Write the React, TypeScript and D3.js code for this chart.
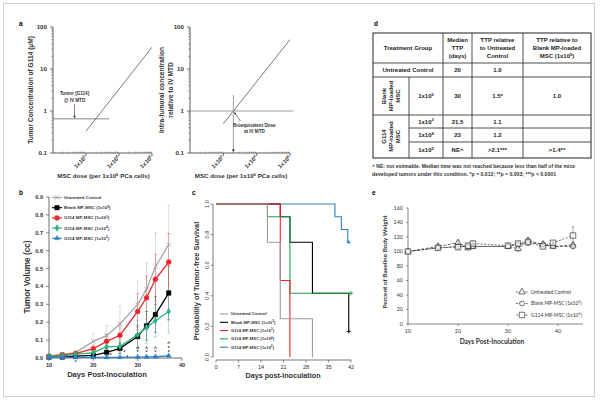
import React from "react";
import * as d3 from "d3";

const FONT = "'Liberation Sans', Arial, sans-serif";

// ---------- Panel a ----------
const aLineDoses = [1e3, 1e5];
const aLineConc = [0.33, 33];
const aMtdConc = 0.65;
const aMtdDoseEnd = 5e3;
const aXTicks = [1e3, 1e4, 1e5];
const aXTickLabels = ["1x10³", "1x10⁴", "1x10⁵"];
const aYTicks = [0.1, 1, 10, 100];
const aYTickLabels = ["0.1", "1", "10", "100"];
const a2LineRel = [0.5, 50];
const a2BioeqDose = 2000;
const a2VLineTop = 2.4;

// ---------- Panel b ----------
const bDays = [10, 13, 16, 20, 23, 26, 30, 32, 34, 37];
const bUntreated = [0.01, 0.02, 0.03, 0.093, 0.125, 0.19, 0.3, 0.385, 0.51, 0.633];
const bUntreatedErr = [0.005, 0.01, 0.012, 0.045, 0.055, 0.1, 0.13, 0.145, 0.19, 0.22];
const bBlank = [0.005, 0.005, 0.01, 0.015, 0.032, 0.054, 0.12, 0.18, 0.243, 0.363];
const bBlankErr = [0.003, 0.003, 0.005, 0.01, 0.02, 0.03, 0.06, 0.08, 0.1, 0.15];
const bG3 = [0.01, 0.018, 0.025, 0.052, 0.093, 0.127, 0.26, 0.337, 0.44, 0.536];
const bG3Err = [0.005, 0.01, 0.01, 0.02, 0.04, 0.06, 0.1, 0.12, 0.14, 0.16];
const bG4 = [0.01, 0.012, 0.02, 0.03, 0.063, 0.065, 0.13, 0.17, 0.208, 0.26];
const bG4Err = [0.003, 0.005, 0.01, 0.02, 0.03, 0.04, 0.08, 0.09, 0.09, 0.12];
const bG5 = [0.003, 0.003, 0.003, 0.003, 0.003, 0.004, 0.005, 0.006, 0.007, 0.012];
const bG5Err = [0.002, 0.002, 0.002, 0.002, 0.002, 0.003, 0.003, 0.004, 0.004, 0.005];
const bSeriesNames = [
  "Untreated Control",
  "Blank MP-MSC (1x10⁵)",
  "G114 MP-MSC (1x10³)",
  "G114 MP-MSC (1x10⁴)",
  "G114 MP-MSC (1x10⁵)",
];
const bCaretDays = [30, 32, 34, 37];
const bCaretValues = [0.06, 0.06, 0.06, 0.087];
const bStarDays = [16, 23.9, 27, 27.6, 30, 32, 34, 37, 37];
const bStarValues = [-0.02, 0.022, 0.036, 0.006, 0.034, 0.034, 0.034, 0.06, 0.034];
const bYTicks = [0, 0.1, 0.2, 0.3, 0.4, 0.5, 0.6, 0.7, 0.8, 0.9];
const bXTicks = [10, 20, 30, 40];

// ---------- Panel c ----------
const cNames = bSeriesNames;
const cTimesUntreated = [0, 16, 20, 30];
const cSurvUntreated = [1, 0.75, 0.25, 0];
const cTimesBlank = [0, 20, 23, 30, 41.3];
const cSurvBlank = [1, 0.917, 0.75, 0.417, 0.167];
const cTimesG3 = [0, 20, 23];
const cSurvG3 = [1, 0.5, 0];
const cTimesG4 = [0, 16, 23, 42];
const cSurvG4 = [1, 0.917, 0.417, 0.417];
const cTimesG5 = [0, 37, 39, 41, 41.3];
const cSurvG5 = [1, 0.917, 0.833, 0.75, 0.75];
const cCensorBlank = [41.3, 0.167];
const cCensorG4 = [42, 0.417];
const cCensorG5 = [41.3, 0.75];
const cXTicks = [0, 7, 14, 21, 28, 35, 42];
const cYTicks = [0, 0.2, 0.4, 0.6, 0.8, 1.0];

// ---------- Panel d (table) ----------
const dHeader1 = ["Treatment Group"];
const dHeader2 = ["Median", "TTP", "(days)"];
const dHeader3 = ["TTP relative", "to Untreated", "Control"];
const dHeader4 = ["TTP relative to", "Blank MP-loaded", "MSC (1x10⁵)"];
const dUntreatedRow = ["Untreated Control", "20", "1.0", ""];
const dBlankGroup = ["Blank", "MP-loaded", "MSC"];
const dBlankRow = ["1x10⁵", "30", "1.5*", "1.0"];
const dG114Group = ["G114", "MP-loaded", "MSC"];
const dG114Doses = ["1x10³", "1x10⁴", "1x10⁵"];
const dG114Median = ["21.5", "23", "NE^"];
const dG114RelUntreated = ["1.1", "1.2", ">2.1***"];
const dG114RelBlank = ["", "", ">1.4**"];
const dFootnote = [
  "^ NE: not estimable. Median time was not reached because less than half of the mice",
  "developed tumors under this condition. *p = 0.012; **p = 0.003; ***p < 0.0001",
];

// ---------- Panel e ----------
const eDays = [10, 16, 20, 22, 23, 30, 32, 34, 37, 39, 43];
const eUntreated = [100, 107, 112, 105, 107, 107, 104, 115, 110, 107, 109];
const eUntreatedErr = [0, 3, 3, 3, 3, 2, 4, 3, 2, 2, 3];
const eBlank = [100, 105, 107, 107, 107, 107, 110, 112, 110, 107, 107];
const eBlankErr = [0, 2, 2, 2, 2, 2, 2, 3, 2, 2, 3];
const eG114 = [100, 105, 106, 108, 111, 108, 111, 113, 107, 112, 122];
const eG114Err = [0, 2, 2, 3, 3, 2, 2, 3, 2, 2, 12];
const eNames = ["Untreated Control", "Blank MP-MSC  (1x10⁵)", "G114 MP-MSC  (1x10⁵)"];
const eYTicks = [0, 20, 40, 60, 80, 100, 120, 140, 160];
const eXTicks = [10, 20, 30, 40];

const SUP: Record<string, string> = { "³": "3", "⁴": "4", "⁵": "5", "⁶": "6" };

// Render a string, turning superscript characters into raised, smaller tspans.
function rich(s: string, fs: number) {
  const parts: { t: string; sup: boolean }[] = [];
  for (const ch of s) {
    const isSup = ch in SUP;
    const t = isSup ? SUP[ch] : ch;
    const last = parts[parts.length - 1];
    if (last && last.sup === isSup) last.t += t;
    else parts.push({ t, sup: isSup });
  }
  const rise = fs * 0.38;
  let raised = false;
  return parts.map((p, i) => {
    let dy = 0;
    if (p.sup && !raised) { dy = -rise; raised = true; }
    else if (!p.sup && raised) { dy = rise; raised = false; }
    return (
      <tspan key={i} dy={dy || undefined} fontSize={p.sup ? fs * 0.68 : undefined}>{p.t}</tspan>
    );
  });
}

function minorLogTicks(lo: number, hi: number) {
  const out: number[] = [];
  for (let p = Math.floor(Math.log10(lo)); p < Math.ceil(Math.log10(hi)); p++) {
    for (let k = 2; k <= 9; k++) {
      const v = k * Math.pow(10, p);
      if (v > lo && v < hi) out.push(v);
    }
  }
  return out;
}

function LogPanel(props: {
  x0: number; x1: number; lineY: number[]; hLineValue: number; hLineEnd: number;
  yTitle: string[]; yTitleX: number; hColor: string;
}) {
  const { x0, x1, lineY, hLineValue, hLineEnd, yTitle, yTitleX, hColor } = props;
  const x = d3.scaleLog().domain([100, 1e5]).range([x0, x1]);
  const y = d3.scaleLog().domain([0.1, 100]).range([153, 27]);
  const line = d3.line<number>().x((_, i) => x(aLineDoses[i])).y((d) => y(d));
  return (
    <g>
      <line x1={x0} x2={x0} y1={27} y2={153} stroke="#333" strokeWidth={0.8} />
      <line x1={x0} x2={x1} y1={153} y2={153} stroke="#333" strokeWidth={0.8} />
      {aYTicks.map((t, i) => (
        <g key={"yt" + i}>
          <line x1={x0 - 3} x2={x0} y1={y(t)} y2={y(t)} stroke="#333" strokeWidth={0.7} />
          <text x={x0 - 6} y={y(t)} dy="0.35em" textAnchor="end" fontSize={6.2} fontWeight="bold" fill="#333">
            {aYTickLabels[i]}
          </text>
        </g>
      ))}
      {minorLogTicks(0.1, 100).map((t, i) => (
        <line key={"ym" + i} x1={x0 - 1.8} x2={x0} y1={y(t)} y2={y(t)} stroke="#555" strokeWidth={0.5} />
      ))}
      {minorLogTicks(100, 1e5).map((t, i) => (
        <line key={"xm" + i} x1={x(t)} x2={x(t)} y1={153} y2={151.5} stroke="#555" strokeWidth={0.5} />
      ))}
      {aXTicks.map((t, i) => (
        <g key={"xt" + i}>
          <line x1={x(t)} x2={x(t)} y1={153} y2={156} stroke="#333" strokeWidth={0.7} />
          <text transform={`translate(${x(t) + 1},${158}) rotate(-45)`} textAnchor="end" fontSize={5.8} fontWeight="bold" fill="#333">
            {rich(aXTickLabels[i], 5.8)}
          </text>
        </g>
      ))}
      <line x1={x(100)} x2={x(hLineEnd)} y1={y(hLineValue)} y2={y(hLineValue)} stroke={hColor} strokeWidth={0.8} />
      <path d={line(lineY) || ""} fill="none" stroke="#555" strokeWidth={0.8} />
      {yTitle.map((s, i) => (
        <text key={"ytl" + i} transform={`translate(${yTitleX + i * 8.5},90) rotate(-90)`} textAnchor="middle" fontSize={6.6} fontWeight="bold" fill="#333">
          {s}
        </text>
      ))}
      <text x={(x0 + x1) / 2 + 1} y={178} textAnchor="middle" fontSize={6.2} fontWeight="bold" fill="#333">
        {rich("MSC dose (per 1x10⁶ PCa cells)", 6.2)}
      </text>
    </g>
  );
}

function PanelA() {
  const xA1 = d3.scaleLog().domain([100, 1e5]).range([53, 152]);
  const xA2 = d3.scaleLog().domain([100, 1e5]).range([190, 290]);
  const y = d3.scaleLog().domain([0.1, 100]).range([153, 27]);
  const lx = xA1(450);
  const bx = xA2(a2BioeqDose);
  return (
    <g>
      <text x={19} y={26} fontSize={6.5} fontWeight="bold">a</text>
      <LogPanel x0={53} x1={152} lineY={aLineConc} hLineValue={aMtdConc} hLineEnd={aMtdDoseEnd}
        yTitle={["Tumor Concentration of G114 (µM)"]} yTitleX={33} hColor="#666" />
      <text x={lx} y={95} textAnchor="middle" fontSize={4.6} fontWeight="bold" fill="#333">Tumor [G114]</text>
      <text x={lx} y={101.5} textAnchor="middle" fontSize={4.6} fontWeight="bold" fill="#333">@ IV MTD</text>
      <line x1={lx} x2={lx} y1={104} y2={y(aMtdConc) - 1} stroke="#333" strokeWidth={0.6} />
      <path d={`M${lx - 1.3},${y(aMtdConc) - 3} L${lx},${y(aMtdConc) - 0.5} L${lx + 1.3},${y(aMtdConc) - 3}`} fill="#333" />

      <LogPanel x0={190} x1={290} lineY={a2LineRel} hLineValue={1} hLineEnd={1.25e5}
        yTitle={["Intra-tumoral concentration", "relative to IV MTD"]} yTitleX={164} hColor="#888" />
      <line x1={bx} x2={bx} y1={153} y2={y(a2VLineTop)} stroke="#888" strokeWidth={0.8} />
      <path d={`M${bx - 1.3},${151} L${bx},${148} L${bx + 1.3},${151}`} fill="#333" />
      <line x1={bx + 1.5} x2={bx + 7} y1={y(1) + 2} y2={y(1) + 10} stroke="#333" strokeWidth={0.6} />
      <path d={`M${bx + 0.6},${y(1) + 1} l2.4,1.2 l-1.6,1.2 z`} fill="#333" />
      <text x={bx + 21} y={y(1) + 16} textAnchor="middle" fontSize={4.6} fontWeight="bold" fill="#333">Bioequivalent Dose</text>
      <text x={bx + 21} y={y(1) + 22} textAnchor="middle" fontSize={4.6} fontWeight="bold" fill="#333">at IV MTD</text>
    </g>
  );
}

function PanelB() {
  const x = d3.scaleLinear().domain([10, 40]).range([49, 182]);
  const y = d3.scaleLinear().domain([0, 0.9]).range([358, 197]);
  const series = [
    { v: bUntreated, e: bUntreatedErr, c: "#a6a6a6", sym: d3.symbolTimes, size: 14, fill: "none" },
    { v: bBlank, e: bBlankErr, c: "#000000", sym: d3.symbolSquare, size: 22, fill: "#000" },
    { v: bG3, e: bG3Err, c: "#e8262b", sym: d3.symbolCircle, size: 20, fill: "#e8262b" },
    { v: bG4, e: bG4Err, c: "#2db37d", sym: d3.symbolDiamond, size: 14, fill: "#2db37d" },
    { v: bG5, e: bG5Err, c: "#2f7fc1", sym: d3.symbolTriangle, size: 12, fill: "#2f7fc1" },
  ];
  const line = d3.line<number>().x((_, i) => x(bDays[i])).y((d) => y(d));
  return (
    <g>
      <text x={19} y={195} fontSize={6.5} fontWeight="bold">b</text>
      <line x1={49} x2={49} y1={197} y2={358} stroke="#444" strokeWidth={0.8} />
      <line x1={49} x2={182} y1={358} y2={358} stroke="#444" strokeWidth={0.8} />
      {bYTicks.map((t, i) => (
        <g key={"by" + i}>
          <line x1={46} x2={49} y1={y(t)} y2={y(t)} stroke="#444" strokeWidth={0.6} />
          <text x={43} y={y(t)} dy="0.35em" textAnchor="end" fontSize={5.6} fontWeight="bold" fill="#333">{t.toFixed(1)}</text>
        </g>
      ))}
      {bXTicks.map((t, i) => (
        <g key={"bx" + i}>
          <line x1={x(t)} x2={x(t)} y1={358} y2={361} stroke="#444" strokeWidth={0.6} />
          <text x={x(t)} y={367} textAnchor="middle" fontSize={5.6} fontWeight="bold" fill="#333">{t}</text>
        </g>
      ))}
      {series.map((s, si) => (
        <g key={"err" + si}>
          {s.v.map((v, i) => {
            const lo = Math.max(0, v - s.e[i]);
            const hi = v + s.e[i];
            return (
              <g key={i}>
                <line x1={x(bDays[i])} x2={x(bDays[i])} y1={y(lo)} y2={y(hi)} stroke={s.c} strokeWidth={0.5} opacity={0.8} />
                <line x1={x(bDays[i]) - 1.5} x2={x(bDays[i]) + 1.5} y1={y(hi)} y2={y(hi)} stroke={s.c} strokeWidth={0.5} opacity={0.8} />
                <line x1={x(bDays[i]) - 1.5} x2={x(bDays[i]) + 1.5} y1={y(lo)} y2={y(lo)} stroke={s.c} strokeWidth={0.5} opacity={0.8} />
              </g>
            );
          })}
        </g>
      ))}
      {series.map((s, si) => (
        <g key={"ser" + si}>
          <path d={line(s.v) || ""} fill="none" stroke={s.c} strokeWidth={1.3} />
          {s.v.map((v, i) => (
            <path key={i} transform={`translate(${x(bDays[i])},${y(v)})`} d={d3.symbol().type(s.sym).size(s.size)() || ""}
              fill={s.fill} stroke={s.c} strokeWidth={s.fill === "none" ? 0.9 : 0.3} />
          ))}
        </g>
      ))}
      {bCaretDays.map((d, i) => (
        <text key={"car" + i} x={x(d)} y={y(bCaretValues[i])} dy="0.5em" textAnchor="middle" fontSize={5} fontWeight="bold" fill="#222">^</text>
      ))}
      {bStarDays.map((d, i) => (
        <text key={"st" + i} x={x(d)} y={y(bStarValues[i])} dy="0.55em" textAnchor="middle" fontSize={4.6} fontWeight="bold" fill="#222">*</text>
      ))}
      {series.map((s, si) => {
        const ly = 197.5 + si * 10.2;
        return (
          <g key={"leg" + si}>
            <line x1={52} x2={62} y1={ly} y2={ly} stroke={s.c} strokeWidth={1.2} />
            <path transform={`translate(57,${ly})`} d={d3.symbol().type(s.sym).size(s.size)() || ""} fill={s.fill} stroke={s.c} strokeWidth={s.fill === "none" ? 0.9 : 0.3} />
            <text x={64} y={ly} dy="0.35em" fontSize={4.4} fontWeight="bold" fill="#333">{rich(bSeriesNames[si], 4.4)}</text>
          </g>
        );
      })}
      <text transform="translate(30,277) rotate(-90)" textAnchor="middle" fontSize={8.2} fontWeight="bold" fill="#333">Tumor Volume (cc)</text>
      <text x={107} y={377} textAnchor="middle" fontSize={7.6} fontWeight="bold" fill="#333">Days Post-Inoculation</text>
    </g>
  );
}

function PanelC() {
  const x = d3.scaleLinear().domain([0, 42]).range([216, 351]);
  const y = d3.scaleLinear().domain([0, 1]).range([357, 204]);
  const step = d3.line<[number, number]>().x((d) => x(d[0])).y((d) => y(d[1])).curve(d3.curveStepAfter);
  const colors = ["#9a9a9a", "#000000", "#e8262b", "#1e9e4a", "#2f7fc1"];
  const curves: { t: number[]; s: number[]; c: string }[] = [
    { t: cTimesG5, s: cSurvG5, c: colors[4] },
    { t: cTimesBlank, s: cSurvBlank, c: colors[1] },
    { t: cTimesG4, s: cSurvG4, c: colors[3] },
    { t: cTimesG3, s: cSurvG3, c: colors[2] },
    { t: cTimesUntreated, s: cSurvUntreated, c: colors[0] },
  ];
  const censors = [
    { p: cCensorBlank, c: colors[1] },
    { p: cCensorG4, c: colors[3] },
    { p: cCensorG5, c: colors[4] },
  ];
  return (
    <g>
      <text x={192} y={195} fontSize={6.5} fontWeight="bold">c</text>
      <line x1={213} x2={213} y1={y(0)} y2={y(1)} stroke="#444" strokeWidth={0.7} />
      <line x1={x(0)} x2={x(42)} y1={360} y2={360} stroke="#444" strokeWidth={0.7} />
      {cYTicks.map((t, i) => (
        <g key={"cy" + i}>
          <line x1={210.5} x2={213} y1={y(t)} y2={y(t)} stroke="#444" strokeWidth={0.6} />
          <text transform={`translate(208.5,${y(t)}) rotate(-90)`} textAnchor="middle" fontSize={5.6} fill="#333">{t.toFixed(1)}</text>
        </g>
      ))}
      {cXTicks.map((t, i) => (
        <g key={"cx" + i}>
          <line x1={x(t)} x2={x(t)} y1={360} y2={362.5} stroke="#444" strokeWidth={0.6} />
          <text x={x(t)} y={368.5} textAnchor="middle" fontSize={5.6} fill="#333">{t}</text>
        </g>
      ))}
      {curves.map((cv, i) => {
        const pts = cv.t.map((t, j) => [t, cv.s[j]] as [number, number]);
        return <path key={"cv" + i} d={step(pts) || ""} fill="none" stroke={cv.c} strokeWidth={1.1} />;
      })}
      {censors.map((cs, i) => (
        <path key={"cs" + i} transform={`translate(${x(cs.p[0])},${y(cs.p[1])})`} d="M-2.2,0H2.2M0,-2.2V2.2" stroke={cs.c} strokeWidth={0.9} />
      ))}
      {cNames.map((n, i) => {
        const ly = 314 + i * 8.3;
        return (
          <g key={"cl" + i}>
            <line x1={220} x2={228} y1={ly} y2={ly} stroke={colors[i]} strokeWidth={1.1} />
            <text x={231} y={ly} dy="0.35em" fontSize={4.2} fontWeight="bold" fill="#333">{rich(n, 4.2)}</text>
          </g>
        );
      })}
      <text transform="translate(199,281) rotate(-90)" textAnchor="middle" fontSize={7.4} fontWeight="bold" fill="#333">Probability of Tumor-free Survival</text>
      <text x={283} y={378} textAnchor="middle" fontSize={7.2} fontWeight="bold" fill="#333">Days post-Inoculation</text>
    </g>
  );
}

function PanelD() {
  const X = [373, 409, 443, 472, 523, 591];
  const Y = [33, 63, 77, 115, 128, 142, 158];
  const fs = 6;
  const c2 = (X[2] + X[3]) / 2, c3 = (X[3] + X[4]) / 2, c4 = (X[4] + X[5]) / 2;
  const T = (x: number, y: number, s: string, k: string) => (
    <text key={k} x={x} y={y} dy="0.35em" textAnchor="middle" fontSize={fs} fontWeight="bold" fill="#222">{rich(s, fs)}</text>
  );
  const lines3 = (arr: string[], cx: number, cy: number, k: string) =>
    arr.map((s, i) => T(cx, cy + (i - 1) * 8.2, s, k + i));
  const gRows = [(Y[3] + Y[4]) / 2, (Y[4] + Y[5]) / 2, (Y[5] + Y[6]) / 2];
  return (
    <g>
      <text x={374} y={26} fontSize={6.5} fontWeight="bold">d</text>
      <rect x={X[0]} y={Y[0]} width={X[5] - X[0]} height={Y[6] - Y[0]} fill="none" stroke="#222" strokeWidth={1} />
      {[1, 2, 3].map((r) => <line key={"h" + r} x1={X[0]} x2={X[5]} y1={Y[r]} y2={Y[r]} stroke="#222" strokeWidth={0.8} />)}
      {[4, 5].map((r) => <line key={"h" + r} x1={X[1]} x2={X[5]} y1={Y[r]} y2={Y[r]} stroke="#222" strokeWidth={0.8} />)}
      <line x1={X[1]} x2={X[1]} y1={Y[2]} y2={Y[6]} stroke="#222" strokeWidth={0.8} />
      {[2, 3, 4].map((c) => <line key={"v" + c} x1={X[c]} x2={X[c]} y1={Y[0]} y2={Y[6]} stroke="#222" strokeWidth={0.8} />)}
      {T((X[0] + X[2]) / 2, (Y[0] + Y[1]) / 2, dHeader1[0], "h1")}
      {lines3(dHeader2, c2, (Y[0] + Y[1]) / 2, "h2")}
      {lines3(dHeader3, c3, (Y[0] + Y[1]) / 2, "h3")}
      {lines3(dHeader4, c4, (Y[0] + Y[1]) / 2, "h4")}
      {T((X[0] + X[2]) / 2, (Y[1] + Y[2]) / 2, dUntreatedRow[0], "u0")}
      {T(c2, (Y[1] + Y[2]) / 2, dUntreatedRow[1], "u1")}
      {T(c3, (Y[1] + Y[2]) / 2, dUntreatedRow[2], "u2")}
      {T(c4, (Y[1] + Y[2]) / 2, dUntreatedRow[3], "u3")}
      <g transform={`translate(${(X[0] + X[1]) / 2},${(Y[2] + Y[3]) / 2}) rotate(-90)`}>
        {dBlankGroup.map((s, i) => (
          <text key={i} x={0} y={(i - 1) * 7.2} dy="0.35em" textAnchor="middle" fontSize={fs} fontWeight="bold" fill="#222">{s}</text>
        ))}
      </g>
      {T((X[1] + X[2]) / 2, (Y[2] + Y[3]) / 2, dBlankRow[0], "b0")}
      {T(c2, (Y[2] + Y[3]) / 2, dBlankRow[1], "b1")}
      {T(c3, (Y[2] + Y[3]) / 2, dBlankRow[2], "b2")}
      {T(c4, (Y[2] + Y[3]) / 2, dBlankRow[3], "b3")}
      <g transform={`translate(${(X[0] + X[1]) / 2},${(Y[3] + Y[6]) / 2}) rotate(-90)`}>
        {dG114Group.map((s, i) => (
          <text key={i} x={0} y={(i - 1) * 7.2} dy="0.35em" textAnchor="middle" fontSize={fs} fontWeight="bold" fill="#222">{s}</text>
        ))}
      </g>
      {gRows.map((cy, i) => (
        <g key={"g" + i}>
          {T((X[1] + X[2]) / 2, cy, dG114Doses[i], "gd" + i)}
          {T(c2, cy, dG114Median[i], "gm" + i)}
          {T(c3, cy, dG114RelUntreated[i], "gu" + i)}
          {T(c4, cy, dG114RelBlank[i], "gb" + i)}
        </g>
      ))}
      {dFootnote.map((s, i) => (
        <text key={"fn" + i} x={372} y={168 + i * 8} fontSize={4.7} fontWeight="bold" fill="#333" textLength={i === 0 ? 203 : 184} lengthAdjust="spacingAndGlyphs">{s}</text>
      ))}
    </g>
  );
}

function PanelE() {
  const x = d3.scaleLinear().domain([10, 45]).range([408, 583]);
  const y = d3.scaleLinear().domain([0, 160]).range([324, 208]);
  const series = [
    { v: eUntreated, e: eUntreatedErr, sym: d3.symbolTriangle, size: 18, dash: "3,1.5" },
    { v: eBlank, e: eBlankErr, sym: d3.symbolCircle, size: 18, dash: "3,1.5" },
    { v: eG114, e: eG114Err, sym: d3.symbolSquare, size: 30, dash: "2,1.5" },
  ];
  const line = d3.line<number>().x((_, i) => x(eDays[i])).y((d) => y(d));
  return (
    <g fontFamily="Lato, 'Open Sans', sans-serif">
      <text x={372} y={195} fontSize={6.5} fontWeight="bold" fontFamily={FONT}>e</text>
      <line x1={408} x2={408} y1={208} y2={324} stroke="#555" strokeWidth={0.7} />
      <line x1={408} x2={583} y1={324} y2={324} stroke="#555" strokeWidth={0.7} />
      {eYTicks.map((t, i) => (
        <g key={"ey" + i}>
          <line x1={406} x2={408} y1={y(t)} y2={y(t)} stroke="#555" strokeWidth={0.6} />
          <text x={403} y={y(t)} dy="0.35em" textAnchor="end" fontSize={5.4} fill="#333">{t}</text>
        </g>
      ))}
      {eXTicks.map((t, i) => (
        <g key={"ex" + i}>
          <line x1={x(t)} x2={x(t)} y1={324} y2={326} stroke="#555" strokeWidth={0.6} />
          <text x={x(t)} y={333} textAnchor="middle" fontSize={5.4} fill="#333">{t}</text>
        </g>
      ))}
      {series.map((s, si) => (
        <g key={"es" + si}>
          {s.v.map((v, i) => s.e[i] > 0 ? (
            <g key={"er" + i}>
              <line x1={x(eDays[i])} x2={x(eDays[i])} y1={y(v - s.e[i])} y2={y(v + s.e[i])} stroke="#555" strokeWidth={0.5} />
              <line x1={x(eDays[i]) - 1.5} x2={x(eDays[i]) + 1.5} y1={y(v + s.e[i])} y2={y(v + s.e[i])} stroke="#555" strokeWidth={0.5} />
              <line x1={x(eDays[i]) - 1.5} x2={x(eDays[i]) + 1.5} y1={y(v - s.e[i])} y2={y(v - s.e[i])} stroke="#555" strokeWidth={0.5} />
            </g>
          ) : null)}
          <path d={line(s.v) || ""} fill="none" stroke="#333" strokeWidth={0.7} strokeDasharray={s.dash} />
        </g>
      ))}
      {series.map((s, si) => (
        <g key={"em" + si}>
          {s.v.map((v, i) => (
            <path key={i} transform={`translate(${x(eDays[i])},${y(v)})`} d={d3.symbol().type(s.sym).size(s.size)() || ""} fill="#fff" fillOpacity={0.6} stroke="#333" strokeWidth={0.7} />
          ))}
        </g>
      ))}
      {eNames.map((n, i) => {
        const ly = 292 + i * 11.5;
        const s = series[i];
        return (
          <g key={"el" + i}>
            <line x1={516} x2={528} y1={ly} y2={ly} stroke="#333" strokeWidth={0.7} strokeDasharray="2,1.2" />
            <path transform={`translate(522,${ly})`} d={d3.symbol().type(s.sym).size(s.size)() || ""} fill="#fff" stroke="#333" strokeWidth={0.7} />
            <text x={531} y={ly} dy="0.35em" fontSize={5} fill="#333">{rich(n, 5)}</text>
          </g>
        );
      })}
      <text transform="translate(387,262) rotate(-90)" textAnchor="middle" fontSize={6.4} fontWeight="bold" fill="#333">Percent of Baseline Body Weight</text>
      <text x={492} y={344} textAnchor="middle" fontSize={6.6} fontWeight="bold" fill="#333">Days Post-Inoculation</text>
    </g>
  );
}

export default function App() {
  return (
    <div>
      <style>{"body{margin:0;background:#fff}"}</style>
      <svg width={600} height={402} style={{ display: "block" }} fontFamily={FONT}>
        <rect x={0} y={0} width={600} height={402} fill="#fff" />
        <rect x={3.5} y={3.5} width={591} height={393} fill="none" stroke="#c9ced6" strokeWidth={1} />
        <PanelA />
        <PanelB />
        <PanelC />
        <PanelD />
        <PanelE />
      </svg>
    </div>
  );
}
